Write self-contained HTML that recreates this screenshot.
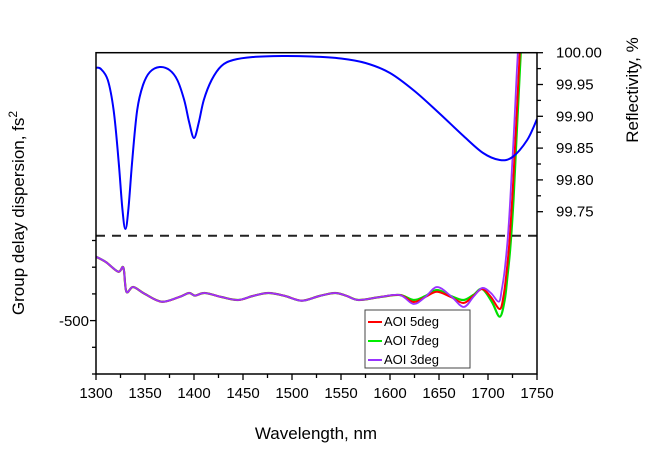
<!DOCTYPE html>
<html><head><meta charset="utf-8"><style>
body{margin:0;background:#fff;}
svg{display:block;font-family:"Liberation Sans",sans-serif;}
</style></head><body>
<svg id="s" width="647" height="450" viewBox="0 0 647 450" xmlns="http://www.w3.org/2000/svg">
<defs><clipPath id="c"><rect x="96" y="52.7" width="441" height="321.3"/></clipPath></defs>
<g id="curves" clip-path="url(#c)"></g>
<line x1="96" y1="235.7" x2="537" y2="235.7" stroke="#222" stroke-width="2" stroke-dasharray="9,7"/>
<rect x="96" y="52.7" width="441" height="321.3" fill="none" stroke="#000" stroke-width="1.5"/>
<g id="ticks" stroke="#000" stroke-width="1.3"></g>
<g font-size="15" fill="#000" id="labels"></g>
<text x="89" y="326" font-size="15" text-anchor="end">-500</text>
<text x="316" y="439" font-size="17" text-anchor="middle">Wavelength, nm</text>
<text transform="translate(24,213) rotate(-90)" font-size="17" text-anchor="middle">Group delay dispersion, fs<tspan dy="-7" font-size="12">2</tspan></text>
<text transform="translate(638,90) rotate(-90)" font-size="17" text-anchor="middle">Reflectivity, %</text>
<g>
<rect x="365" y="310" width="105" height="58" fill="#fff" stroke="#444" stroke-width="1"/>
<line x1="368" y1="322" x2="382" y2="322" stroke="#f00" stroke-width="2"/>
<line x1="368" y1="341" x2="382" y2="341" stroke="#0e0" stroke-width="2"/>
<line x1="368" y1="360" x2="382" y2="360" stroke="#9933ff" stroke-width="2"/>
<text x="384" y="326" font-size="13">AOI 5deg</text>
<text x="384" y="345" font-size="13">AOI 7deg</text>
<text x="384" y="364" font-size="13">AOI 3deg</text>
</g>
</svg>
<script>
const NS="http://www.w3.org/2000/svg";
const X=w=>96+(w-1300)*0.98;
function cr(pts){let d="M"+pts[0][0]+","+pts[0][1];for(let i=0;i<pts.length-1;i++){const p0=pts[Math.max(0,i-1)],p1=pts[i],p2=pts[i+1],p3=pts[Math.min(pts.length-1,i+2)];
const c1=[p1[0]+(p2[0]-p0[0])/6,p1[1]+(p2[1]-p0[1])/6],c2=[p2[0]-(p3[0]-p1[0])/6,p2[1]-(p3[1]-p1[1])/6];
d+=" C"+c1[0].toFixed(1)+","+c1[1].toFixed(1)+" "+c2[0].toFixed(1)+","+c2[1].toFixed(1)+" "+p2[0].toFixed(1)+","+p2[1].toFixed(1);}return d;}
function add(pts,col,w){const p=document.createElementNS(NS,"path");p.setAttribute("d",cr(pts.map(q=>[X(q[0]),q[1]])));p.setAttribute("fill","none");p.setAttribute("stroke",col);p.setAttribute("stroke-width",w);document.getElementById("curves").appendChild(p);}
const base=[[1300,256.7],[1310,262],[1322.7,271.7],[1328,267.7],[1331,291.7],[1338,287],[1350,294],[1367,301.7],[1385,297],[1395,293],[1401,295.6],[1411,293],[1428,297],[1445,300],[1460,296],[1476,293],[1493,296],[1510,300.7],[1528,296],[1544,293],[1556,296],[1568,300],[1590,297],[1610,295]];
function gdd(tail){return base.concat(tail);}
const purple=[[1624,304],[1636,297],[1648,287],[1662,296],[1675,307],[1685,297],[1694,288],[1703,293],[1711,301.7],[1714,290],[1717,270],[1720,240],[1723,195],[1726,140],[1729,80],[1731,40],[1732,0]];
const red=[[1624,302],[1636,297],[1648,291.7],[1662,297],[1675,303],[1685,296],[1694,289],[1703,297],[1712,309],[1716,295],[1719,272],[1722,240],[1725,195],[1728,140],[1731,80],[1733,40],[1734,0]];
const green=[[1624,300],[1636,296],[1648,290],[1662,296],[1675,300],[1685,295],[1694,289],[1704,302],[1712,316.7],[1717,300],[1720,275],[1723,245],[1726,200],[1729,140],[1732,80],[1734,40],[1735,0]];
add(gdd(green),"#00e000",2.2);
add(gdd(red),"#ff0000",2);
add(gdd(purple),"#9933ff",1.8);
const blue=[[1300,67.7],[1305,69],[1312,80],[1318,110],[1323,160],[1327,210],[1330,229],[1333,210],[1337,160],[1342,110],[1348,85],[1355,72],[1365,67],[1375,70],[1383,80],[1390,100],[1395,122],[1400,138],[1405,122],[1410,100],[1418,80],[1428,66],[1440,60],[1460,57],[1490,56],[1520,56.5],[1550,58.5],[1575,63],[1600,73],[1625,91],[1650,113],[1675,136],[1695,153],[1712,160],[1725,157],[1740,140],[1750,119]];
add(blue,"#0000ff",2);
const t=document.getElementById("ticks"),L=document.getElementById("labels");
function ln(a,b,c,d){const l=document.createElementNS(NS,"line");l.setAttribute("x1",a);l.setAttribute("y1",b);l.setAttribute("x2",c);l.setAttribute("y2",d);t.appendChild(l);}
function tx(x,y,s,anc){const e=document.createElementNS(NS,"text");e.setAttribute("x",x);e.setAttribute("y",y);e.setAttribute("text-anchor",anc);e.textContent=s;L.appendChild(e);}
for(let w=1300;w<=1750;w+=25){const x=X(w);const maj=w%50==0;ln(x,374,x,374+(maj?6:4));if(maj)tx(x,398,w,"middle");}
for(let i=0;i<6;i++){const y=374-i*26.7;ln(96,y,96-(i==2?6:4),y);}
for(let i=0;i<=10;i++){const y=52.7+i*15.9;const maj=i%2==0;ln(537,y,537+(maj?6:4),y);if(maj)tx(556,y+5,(100-i*0.025).toFixed(2),"start");}
</script>
</body></html>
